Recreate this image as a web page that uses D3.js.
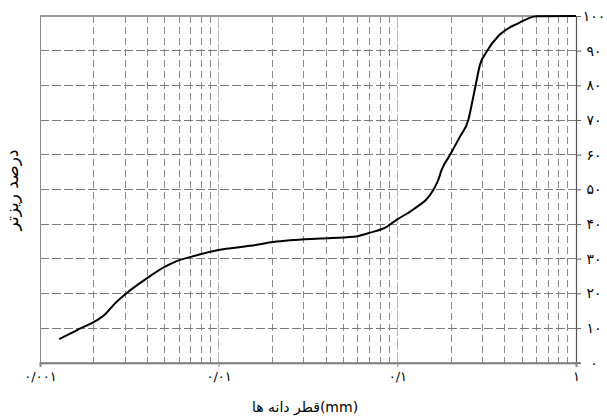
<!DOCTYPE html>
<html><head><meta charset="utf-8">
<script src="https://cdn.jsdelivr.net/npm/d3@7"></script>
<style>html,body{margin:0;padding:0;background:#fff;}svg{display:block;}</style>
</head><body>
<svg id="chart" width="607" height="417"></svg>
<script>
// Grain size distribution (log x, percent finer)
const diameters = [0.00128, 0.00164, 0.00234, 0.00263, 0.00299, 0.00395, 0.00501, 0.00582, 0.00706, 0.00995, 0.0150, 0.0202, 0.0251, 0.0369, 0.0568, 0.0703, 0.0871, 0.099, 0.1227, 0.1589, 0.1694, 0.177, 0.197, 0.224, 0.2496, 0.264, 0.2745, 0.290, 0.316, 0.372, 0.475, 0.602, 1.0];
const percentFiner = [6.8, 9.6, 14.2, 17.1, 19.7, 24.3, 27.7, 29.3, 30.6, 32.5, 33.7, 34.8, 35.3, 35.8, 36.3, 37.5, 39.2, 41.2, 44.2, 49.8, 52.7, 55.6, 59.9, 65.2, 70.0, 75.8, 80.1, 85.9, 89.7, 94.5, 97.9, 99.9, 100];
const xTickValues = [0.001, 0.01, 0.1, 1];
const xTickLabels = ["۰/۰۰۱", "۰/۰۱", "۰/۱", "۱"];
const yTickValues = [0, 10, 20, 30, 40, 50, 60, 70, 80, 90, 100];
const yTickLabels = ["۰", "۱۰", "۲۰", "۳۰", "۴۰", "۵۰", "۶۰", "۷۰", "۸۰", "۹۰", "۱۰۰"];
const xTitle = "قطر دانه ها(mm)";
const yTitle = "درصد ریزتر";

const svg = d3.select("#chart");
const L = 40, R = 576, T = 16, B = 362.7;
const x = d3.scaleLog().domain([0.001, 1]).range([L, R]);
const y = d3.scaleLinear().domain([0, 100]).range([B, T]);
const font = "'DejaVu Sans', sans-serif";

// minor vertical gridlines
const minor = [];
[0.001, 0.01, 0.1].forEach(d => { for (let k = 2; k <= 9; k++) minor.push(d * k); });
svg.append("g").selectAll("line").data(minor).join("line")
  .attr("x1", d => x(d)).attr("x2", d => x(d)).attr("y1", T).attr("y2", B)
  .attr("stroke", "#8a8a8a").attr("stroke-width", 1).attr("stroke-dasharray", "7,4")
  .attr("shape-rendering", "crispEdges");
// decade gridlines
svg.append("g").selectAll("line").data([0.01, 0.1]).join("line")
  .attr("x1", d => x(d)).attr("x2", d => x(d)).attr("y1", T).attr("y2", B + 4)
  .attr("stroke", "#b5b5b5").attr("stroke-width", 1.5).attr("stroke-dasharray", "12,2")
  .attr("shape-rendering", "crispEdges");
// horizontal gridlines
svg.append("g").selectAll("line").data(yTickValues.filter(v => v > 0 && v < 100)).join("line")
  .attr("x1", L).attr("x2", R + 5).attr("y1", d => y(d)).attr("y2", d => y(d))
  .attr("stroke", "#7a7a7a").attr("stroke-width", 1).attr("stroke-dasharray", "9,3")
  .attr("shape-rendering", "crispEdges");

// frame
svg.append("line").attr("x1", L).attr("x2", R).attr("y1", T).attr("y2", T)
  .attr("stroke", "#9a9a9a").attr("stroke-width", 1.5).attr("shape-rendering", "crispEdges");
svg.append("line").attr("x1", L).attr("x2", L).attr("y1", T).attr("y2", B)
  .attr("stroke", "#8a8a8a").attr("stroke-width", 1).attr("shape-rendering", "crispEdges");

// right y axis
const yAxis = d3.axisRight(y).tickValues(yTickValues).tickSize(5)
  .tickFormat((d, i) => yTickLabels[i]);
const gy = svg.append("g").attr("transform", `translate(${R},0)`).call(yAxis);
gy.select(".domain").attr("stroke", "#555").attr("stroke-width", 1.2);
gy.selectAll(".tick line").attr("stroke", "#666");
gy.selectAll(".tick text").attr("x", 18).attr("text-anchor", "middle")
  .attr("font-family", font).attr("font-size", 14).attr("fill", "#000");

// bottom x axis
const xAxis = d3.axisBottom(x).tickValues(xTickValues).tickSize(4)
  .tickFormat((d, i) => xTickLabels[i]);
const gx = svg.append("g").attr("transform", `translate(0,${B})`).call(xAxis);
gx.select(".domain").attr("stroke", "#7a7a7a").attr("stroke-width", 2);
gx.selectAll(".tick line").attr("stroke", "#888");
gx.selectAll(".tick text").attr("y", 9)
  .attr("font-family", font).attr("font-size", 13).attr("fill", "#000");

// curve
const line = d3.line().x((d, i) => x(diameters[i])).y(d => y(d)).curve(d3.curveMonotoneX);
svg.append("path").datum(percentFiner).attr("d", line)
  .attr("fill", "none").attr("stroke", "#000").attr("stroke-width", 2);

// titles
svg.append("text").attr("x", 305).attr("y", 412).attr("text-anchor", "middle")
  .attr("font-family", font).attr("font-size", 14).attr("fill", "#000").text(xTitle);
svg.append("text").attr("transform", "translate(18,190) rotate(-90)").attr("text-anchor", "middle")
  .attr("font-family", font).attr("font-size", 17).attr("fill", "#000").text(yTitle);
</script>
</body></html>
